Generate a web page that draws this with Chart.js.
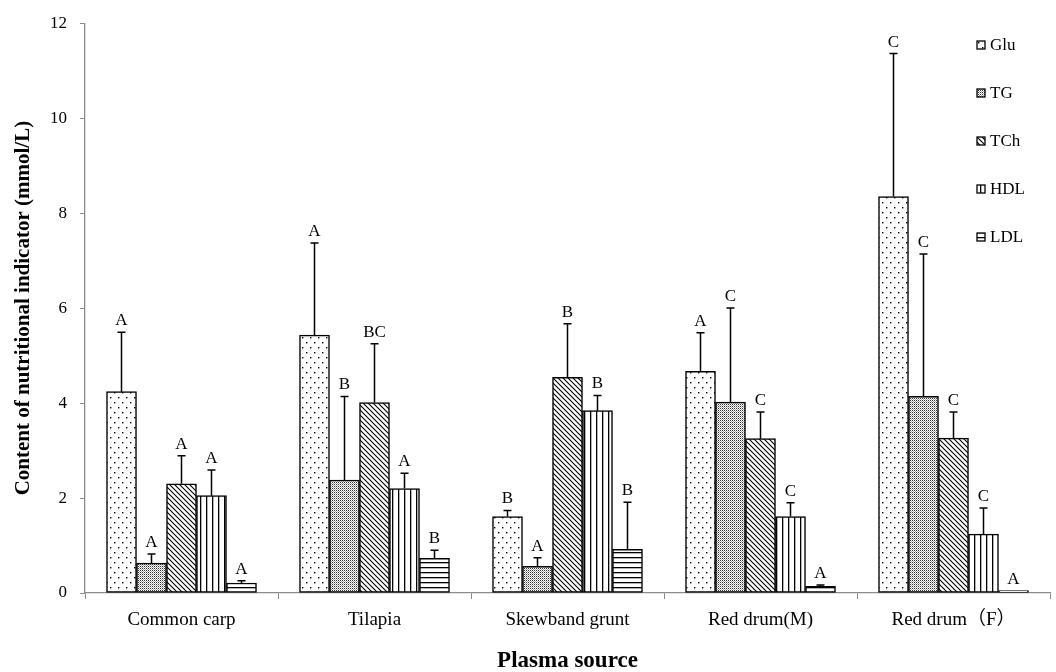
<!DOCTYPE html>
<html>
<head>
<meta charset="utf-8">
<script src="https://cdn.jsdelivr.net/npm/chart.js@4.4.1/dist/chart.umd.min.js"></script>
<style>
  html, body { margin: 0; padding: 0; background: #fff; }
  #wrap { width: 1056px; height: 672px; }
</style>
</head>
<body>
<div id="wrap"><canvas id="chart" width="1056" height="672"></canvas></div>
<script>
const SERIF = "'Liberation Serif', 'Times New Roman', 'Noto Sans CJK SC', serif";

const categories = ["Common carp", "Tilapia", "Skewband grunt", "Red drum(M)", "Red drum\uFF08F\uFF09"];
const seriesNames = ["Glu", "TG", "TCh", "HDL", "LDL"];

// means (mmol/L)
const glu = [4.24, 5.43, 1.61, 4.67, 8.35];
const tg  = [0.63, 2.38, 0.56, 4.02, 4.14];
const tch = [2.30, 4.01, 4.54, 3.25, 3.26];
const hdl = [2.05, 2.20, 3.84, 1.61, 1.24];
const ldl = [0.21, 0.73, 0.92, 0.14, 0.05];

// standard deviations (upper error bars)
const gluSd = [1.25, 1.94, 0.13, 0.81, 3.01];
const tgSd  = [0.19, 1.76, 0.18, 1.98, 3.00];
const tchSd = [0.59, 1.24, 1.13, 0.56, 0.55];
const hdlSd = [0.54, 0.32, 0.32, 0.29, 0.55];
const ldlSd = [0.05, 0.17, 0.99, 0.03, 0.00];

// significance letters
const gluSig = ["A", "A", "B", "A", "C"];
const tgSig  = ["A", "B", "A", "C", "C"];
const tchSig = ["A", "BC", "B", "C", "C"];
const hdlSig = ["A", "A", "B", "C", "C"];
const ldlSig = ["A", "B", "B", "A", "A"];

const yTicks = [0, 2, 4, 6, 8, 10, 12];

// ---- hatch patterns ----
function makePattern(kind) {
  const c = document.createElement("canvas");
  const g = c.getContext("2d");
  const size = { glu: [8, 10], tg: [2, 2], tch: [5, 5], hdl: [6, 6], ldl: [6, 5] }[kind];
  c.width = size[0]; c.height = size[1];
  g.fillStyle = "#fff";
  g.fillRect(0, 0, c.width, c.height);
  g.fillStyle = "#000";
  g.strokeStyle = "#000";
  if (kind === "glu") {
    g.fillRect(2, 2, 1.4, 1.4);
    g.fillRect(6, 7, 1.4, 1.4);
  } else if (kind === "tg") {
    g.fillStyle = "#333";
    g.fillRect(0, 0, 1, 1);
    g.fillStyle = "#aaa";
    g.fillRect(1, 1, 1, 1);
  } else if (kind === "tch") {
    g.lineWidth = 1.1;
    g.beginPath();
    g.moveTo(-1, -1); g.lineTo(6, 6);
    g.moveTo(-1, 4); g.lineTo(2, 7);
    g.moveTo(4, -1); g.lineTo(7, 2);
    g.stroke();
  } else if (kind === "hdl") {
    g.fillRect(2, 0, 1.3, 6);
  } else if (kind === "ldl") {
    g.fillRect(0, 2, 6, 1.3);
  }
  return g.createPattern(c, "repeat");
}

const fills = ["glu", "tg", "tch", "hdl", "ldl"].map(makePattern);
const means = [glu, tg, tch, hdl, ldl];
const sds = [gluSd, tgSd, tchSd, hdlSd, ldlSd];
const sigs = [gluSig, tgSig, tchSig, hdlSig, ldlSig];

// error bars + letters drawn over the bars
const errorBars = {
  id: "errorBars",
  afterDatasetsDraw(chart) {
    const { ctx, scales: { y } } = chart;
    ctx.save();
    ctx.strokeStyle = "#000";
    ctx.lineWidth = 1.5;
    ctx.fillStyle = "#000";
    ctx.font = "17px " + SERIF;
    ctx.textAlign = "center";
    ctx.textBaseline = "alphabetic";
    chart.data.datasets.forEach((ds, i) => {
      chart.getDatasetMeta(i).data.forEach((bar, j) => {
        const top = y.getPixelForValue(means[i][j] + sds[i][j]);
        if (sds[i][j] > 0) {
          ctx.beginPath();
          ctx.moveTo(bar.x, bar.y);
          ctx.lineTo(bar.x, top);
          ctx.moveTo(bar.x - 4, top);
          ctx.lineTo(bar.x + 4, top);
          ctx.stroke();
        }
        ctx.fillText(sigs[i][j], bar.x, Math.min(top, bar.y) - 7);
      });
    });
    ctx.restore();
  },
};

// legend stacked in the top-right corner of the plot
const sideLegend = {
  id: "sideLegend",
  afterDraw(chart) {
    const { ctx } = chart;
    ctx.save();
    ctx.font = "17px " + SERIF;
    ctx.textBaseline = "middle";
    ctx.textAlign = "left";
    seriesNames.forEach((name, i) => {
      const cy = 45 + i * 48;
      ctx.fillStyle = fills[i];
      ctx.fillRect(977, cy - 4, 8, 8);
      ctx.strokeStyle = "#000";
      ctx.lineWidth = 1.3;
      ctx.strokeRect(977, cy - 4, 8, 8);
      ctx.fillStyle = "#000";
      ctx.fillText(name, 990, cy + 1);
    });
    ctx.restore();
  },
};

new Chart(document.getElementById("chart"), {
  type: "bar",
  data: {
    labels: categories,
    datasets: seriesNames.map((name, i) => ({
      label: name,
      data: means[i],
      backgroundColor: fills[i],
      borderColor: "#000",
      borderWidth: 1.5,
      borderSkipped: false,
      barThickness: 30,
    })),
  },
  options: {
    responsive: false,
    animation: false,
    layout: { padding: { top: 18, right: 6, left: 0, bottom: 0 } },
    plugins: { legend: { display: false }, tooltip: { enabled: false } },
    scales: {
      x: {
        offset: true,
        afterFit: s => { s.height = 79; },
        grid: { display: true, drawOnChartArea: false, offset: true, tickLength: 6, color: "#8c8c8c" },
        border: { color: "#8c8c8c", width: 1.3 },
        ticks: { color: "#000", font: { family: SERIF, size: 19 }, padding: 10, maxRotation: 0 },
        title: { display: true, text: "Plasma source", color: "#000", font: { family: SERIF, size: 23, weight: "bold" }, padding: { top: 0, bottom: -3 } },
      },
      y: {
        min: 0,
        max: 12,
        afterFit: s => { s.width = 85; },
        afterBuildTicks: s => { s.ticks = yTicks.map(v => ({ value: v })); },
        grid: { display: true, drawOnChartArea: false, tickLength: 5, color: "#8c8c8c" },
        border: { color: "#8c8c8c", width: 1.3 },
        ticks: { color: "#000", font: { family: SERIF, size: 17 }, padding: 13 },
        title: { display: true, text: "Content of nutritional indicator (mmol/L)", color: "#000", font: { family: SERIF, size: 21, weight: "bold" }, padding: { top: 11, bottom: 0 } },
      },
    },
  },
  plugins: [errorBars, sideLegend],
});
</script>
</body>
</html>
